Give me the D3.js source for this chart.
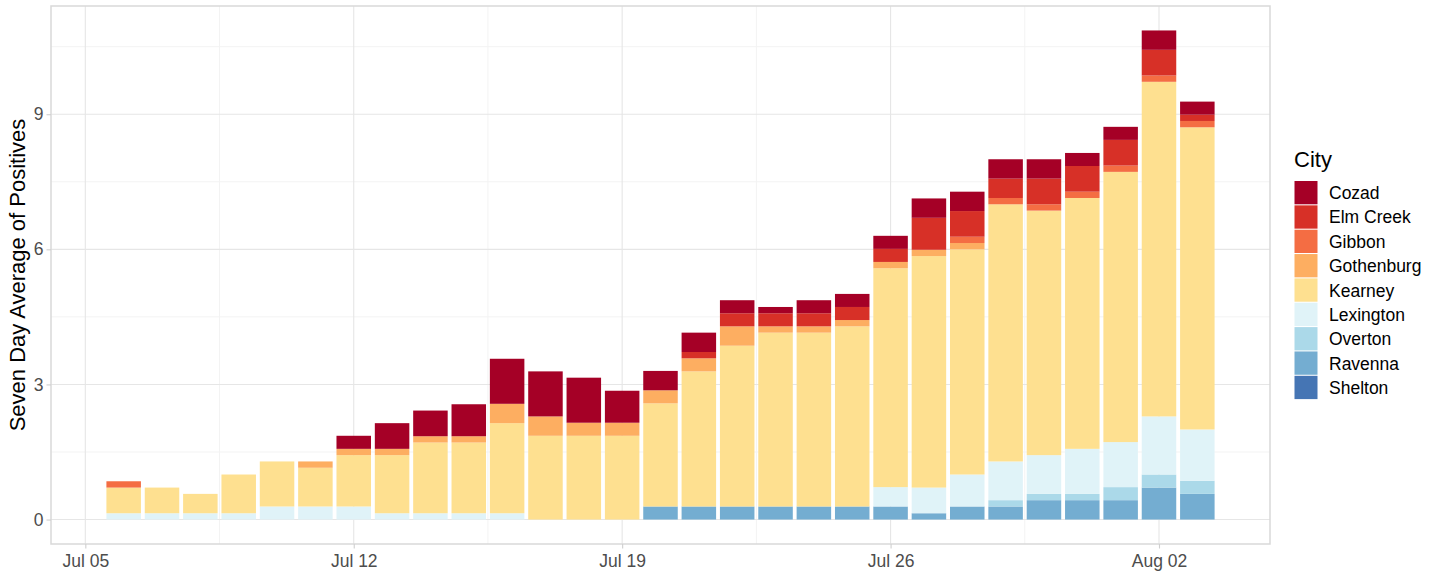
<!DOCTYPE html>
<html lang="en">
<head>
<meta charset="UTF-8">
<title>Seven Day Average of Positives by City</title>
<script src="https://d3js.org/d3.v7.min.js"></script>
<style>
  body { margin: 0; background: #fff; }
  svg text { font-family: "Liberation Sans", Arial, sans-serif; }
</style>
</head>
<body>
<div id="chart"></div>
<script>
// dates Jul 6 .. Aug 3 (2020)
var dates = ["2020-07-06","2020-07-07","2020-07-08","2020-07-09","2020-07-10","2020-07-11","2020-07-12",
             "2020-07-13","2020-07-14","2020-07-15","2020-07-16","2020-07-17","2020-07-18","2020-07-19",
             "2020-07-20","2020-07-21","2020-07-22","2020-07-23","2020-07-24","2020-07-25","2020-07-26",
             "2020-07-27","2020-07-28","2020-07-29","2020-07-30","2020-07-31","2020-08-01","2020-08-02","2020-08-03"];

var cities = ["Cozad","Elm Creek","Gibbon","Gothenburg","Kearney","Lexington","Overton","Ravenna","Shelton"];
var colors = ["#A50026","#D73027","#F46D43","#FDAE61","#FEE090","#E0F3F8","#ABD9E9","#74ADD1","#4575B4"];

var cozad      = [0,0,0,0,0,0,0.29,0.57,0.57,0.71,1,1,1,0.71,0.43,0.43,0.29,0.14,0.29,0.29,0.29,0.43,0.43,0.43,0.43,0.29,0.29,0.43,0.29];
var elmCreek   = [0,0,0,0,0,0,0,0,0,0,0,0,0,0,0,0.14,0.29,0.29,0.29,0.29,0.29,0.71,0.57,0.43,0.57,0.57,0.57,0.57,0.14];
var gibbon     = [0.14,0,0,0,0,0,0,0,0,0,0,0,0,0,0,0,0,0,0,0,0,0,0.14,0.14,0.14,0.14,0.14,0.14,0.14];
var gothenburg = [0,0,0,0,0,0.14,0.14,0.14,0.14,0.14,0.43,0.43,0.29,0.29,0.29,0.29,0.43,0.14,0.14,0.14,0.14,0.14,0.14,0,0,0,0,0,0];
var kearney    = [0.57,0.57,0.43,0.86,1,0.86,1.14,1.29,1.57,1.57,2,1.86,1.86,1.86,2.29,3,3.57,3.86,3.86,4,4.86,5.14,5,5.71,5.43,5.57,6,7.43,6.71];
var lexington  = [0.14,0.14,0.14,0.14,0.29,0.29,0.29,0.14,0.14,0.14,0.14,0,0,0,0,0,0,0,0,0,0.43,0.57,0.71,0.86,0.86,1,1,1.29,1.14];
var overton    = [0,0,0,0,0,0,0,0,0,0,0,0,0,0,0,0,0,0,0,0,0,0,0,0.14,0.14,0.14,0.29,0.29,0.29];
var ravenna    = [0,0,0,0,0,0,0,0,0,0,0,0,0,0,0.29,0.29,0.29,0.29,0.29,0.29,0.29,0.14,0.29,0.29,0.43,0.43,0.43,0.71,0.57];
var shelton    = [0,0,0,0,0,0,0,0,0,0,0,0,0,0,0,0,0,0,0,0,0,0,0,0,0,0,0,0,0];

var yTicks = [0, 3, 6, 9];
var yMinor = [1.5, 4.5, 7.5, 10.5];
var xTickDates = ["2020-07-05","2020-07-12","2020-07-19","2020-07-26","2020-08-02"];

var width = 1438, height = 571;
var panel = { left: 51, top: 6, right: 1270, bottom: 544 };
var DAY = 864e5;

var series = {"Cozad": cozad, "Elm Creek": elmCreek, "Gibbon": gibbon, "Gothenburg": gothenburg,
              "Kearney": kearney, "Lexington": lexington, "Overton": overton, "Ravenna": ravenna, "Shelton": shelton};

var parse = d3.utcParse("%Y-%m-%d");
var rows = dates.map(function(d, i) {
  var r = { date: parse(d) };
  cities.forEach(function(c) { r[c] = series[c][i]; });
  return r;
});

// bottom-up stacking: Shelton at the bottom, Cozad on top (ggplot order)
var stackKeys = cities.slice().reverse();
var stacked = d3.stack().keys(stackKeys)(rows);

var color = d3.scaleOrdinal().domain(cities).range(colors);

// x: bar width 0.9 day, 5% expansion
var first = rows[0].date.getTime(), last = rows[rows.length - 1].date.getTime();
var lo = first - 0.45 * DAY, hi = last + 0.45 * DAY;
var padX = (hi - lo) * 0.05;
var x = d3.scaleUtc().domain([new Date(lo - padX), new Date(hi + padX)]).range([panel.left, panel.right]);

var maxTotal = d3.max(rows, function(r) { return d3.sum(cities, function(c) { return r[c]; }); });
var padY = maxTotal * 0.05;
var y = d3.scaleLinear().domain([-padY, maxTotal + padY]).range([panel.bottom, panel.top]);

var svg = d3.select("#chart").append("svg").attr("width", width).attr("height", height);

// grid
var g = svg.append("g");
g.selectAll(".ymin").data(yMinor).enter().append("line")
  .attr("x1", panel.left).attr("x2", panel.right)
  .attr("y1", function(d) { return y(d); }).attr("y2", function(d) { return y(d); })
  .attr("stroke", "#f3f3f3").attr("stroke-width", 1);
var xMajor = xTickDates.map(parse);
var xMinor = xMajor.map(function(d) { return new Date(d.getTime() + 3.5 * DAY); })
  .concat([new Date(xMajor[0].getTime() - 3.5 * DAY)])
  .filter(function(d) { return x(d) > panel.left && x(d) < panel.right; });
g.selectAll(".xmin").data(xMinor).enter().append("line")
  .attr("y1", panel.top).attr("y2", panel.bottom)
  .attr("x1", function(d) { return x(d); }).attr("x2", function(d) { return x(d); })
  .attr("stroke", "#f3f3f3").attr("stroke-width", 1);
g.selectAll(".ymaj").data(yTicks).enter().append("line")
  .attr("x1", panel.left).attr("x2", panel.right)
  .attr("y1", function(d) { return y(d); }).attr("y2", function(d) { return y(d); })
  .attr("stroke", "#e6e6e6").attr("stroke-width", 1.1);
g.selectAll(".xmaj").data(xMajor).enter().append("line")
  .attr("y1", panel.top).attr("y2", panel.bottom)
  .attr("x1", function(d) { return x(d); }).attr("x2", function(d) { return x(d); })
  .attr("stroke", "#e6e6e6").attr("stroke-width", 1.1);

// bars
var barW = x(new Date(first + 0.9 * DAY)) - x(new Date(first));
svg.append("g").selectAll("g").data(stacked).enter().append("g")
  .attr("fill", function(s) { return color(s.key); })
  .selectAll("rect").data(function(s) { return s; }).enter().append("rect")
  .attr("x", function(d) { return x(d.data.date) - barW / 2; })
  .attr("width", barW)
  .attr("y", function(d) { return y(d[1]); })
  .attr("height", function(d) { return Math.max(0, y(d[0]) - y(d[1])); });

// panel border
svg.append("rect")
  .attr("x", panel.left).attr("y", panel.top)
  .attr("width", panel.right - panel.left).attr("height", panel.bottom - panel.top)
  .attr("fill", "none").attr("stroke", "#d9d9d9").attr("stroke-width", 1.5);

// axes
var xAxis = d3.axisBottom(x).tickValues(xMajor).tickFormat(d3.utcFormat("%b %d")).tickSize(4.5).tickPadding(6);
var xa = svg.append("g").attr("transform", "translate(0," + panel.bottom + ")").call(xAxis);
var yAxis = d3.axisLeft(y).tickValues(yTicks).tickSize(4.5).tickPadding(3);
var ya = svg.append("g").attr("transform", "translate(" + panel.left + ",0)").call(yAxis);
[xa, ya].forEach(function(a) {
  a.select(".domain").remove();
  a.selectAll(".tick line").attr("stroke", "#cfcfcf").attr("stroke-width", 1.1);
  a.selectAll(".tick text").attr("fill", "#4d4d4d").style("font-size", "17.5px")
    .style("font-family", "'Liberation Sans', Arial, sans-serif");
});

// y title
svg.append("text")
  .attr("transform", "translate(25," + ((panel.top + panel.bottom) / 2) + ") rotate(-90)")
  .attr("text-anchor", "middle")
  .style("font-size", "22px").attr("fill", "#000")
  .text("Seven Day Average of Positives");

// legend
var lg = svg.append("g").attr("transform", "translate(1294,0)");
lg.append("text").attr("x", 0).attr("y", 167).style("font-size", "22px").attr("fill", "#000").text("City");
var item = lg.selectAll(".item").data(cities).enter().append("g")
  .attr("transform", function(d, i) { return "translate(0," + (180.5 + i * 24.35) + ")"; });
item.append("rect").attr("x", 0.5).attr("y", 0.5).attr("width", 23).attr("height", 23.3)
  .attr("fill", function(d) { return color(d); });
item.append("text").attr("x", 35).attr("y", 12.5).attr("dy", "0.35em")
  .style("font-size", "17.5px").attr("fill", "#000").text(function(d) { return d; });
</script>
</body>
</html>
